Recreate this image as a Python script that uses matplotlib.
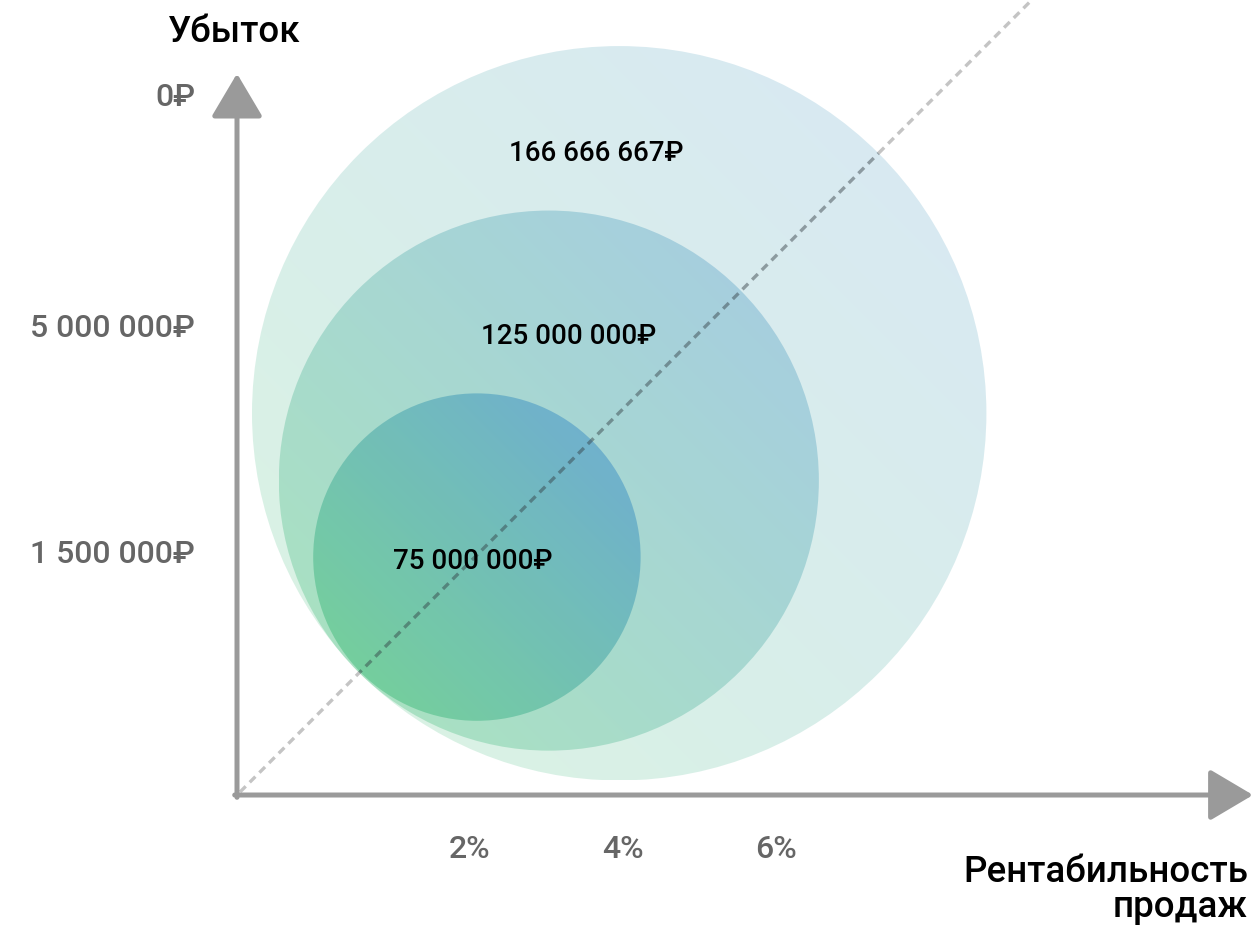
import numpy as np
import matplotlib.pyplot as plt
from matplotlib.patches import Circle

plt.rcParams["font.family"] = ["Roboto", "DejaVu Sans"]

# данные: рентабильность (%), уровень убытка, размер круга
circle_x = [3.95, 3.03, 2.09]
circle_y = [4.99, 4.11, 3.11]
circle_r = [4.80, 3.53, 2.14]
circle_labels = ["166 666 667₽", "125 000 000₽", "75 000 000₽"]
circle_alpha = [0.26, 0.45, 0.88]

x_ticks = [2, 4, 6]
x_tick_labels = ["2%", "4%", "6%"]
y_ticks = [9.12, 6.10, 3.14]
y_tick_labels = ["0₽", "5 000 000₽", "1 500 000₽"]

GREEN = np.array([111, 211, 143]) / 255
BLUE = np.array([104, 166, 214]) / 255
AXIS_C = "#9a9a9a"

fig = plt.figure(figsize=(12.55, 9.25), dpi=100)
ax = fig.add_axes([0, 0, 1, 1])
ax.set_xlim(-4.144, 12.261)
ax.set_ylim(-1.699, 10.392)
ax.set_axis_off()

x0 = -1.046  # положение вертикальной оси

# круги с градиентом (зелёный слева снизу -> синий справа сверху)
n = 200
u, v = np.meshgrid(np.linspace(0, 1, n), np.linspace(0, 1, n))
t = ((u + v) / 2)[..., None]
grad = GREEN * (1 - t) + BLUE * t
circles = []
for cx, cy, r, a in zip(circle_x, circle_y, circle_r, circle_alpha):
    circ = Circle((cx, cy), r, transform=ax.transData, facecolor="none", edgecolor="none")
    ax.add_patch(circ)
    circles.append(circ)
    im = ax.imshow(grad, extent=(cx - r, cx + r, cy - r, cy + r), origin="lower",
                   alpha=a, interpolation="bilinear", zorder=1)
    im.set_clip_path(circ)

# пунктирная диагональ: светлая снаружи, темнее внутри кругов
p0 = np.array([x0 + 0.04, 0.04])
p1 = np.array([9.4, 10.45])
d = (p1 - p0) / np.linalg.norm(p1 - p0)
c = np.array([circle_x[0], circle_y[0]])
b = np.dot(p0 - c, d)
disc = np.sqrt(b ** 2 - (np.dot(p0 - c, p0 - c) - circle_r[0] ** 2))
s_in, s_out = -b - disc, -b + disc
dash = dict(lw=2.4, dashes=(2.4, 1.7), zorder=3)
for a_, b_ in [(p0, p0 + s_in * d), (p0 + s_out * d, p1)]:
    ax.plot([a_[0], b_[0]], [a_[1], b_[1]], color="#c4c4c4", **dash)
inner = ax.plot([p0[0], p1[0]], [p0[1], p1[1]], color="#303a40", alpha=0.45, **dash)[0]
inner.set_clip_path(circles[0])

# оси со стрелками
arrow = dict(arrowstyle="-|>,head_length=27,head_width=16", color=AXIS_C, lw=3.6,
             shrinkA=0, shrinkB=0, mutation_scale=1)
ax.annotate("", xy=(x0, 9.43), xytext=(x0, -0.03), arrowprops=arrow, zorder=4)
ax.annotate("", xy=(12.235, 0), xytext=(x0 - 0.03, 0), arrowprops=arrow, zorder=4)

# подписи делений
for xt, lab in zip(x_ticks, x_tick_labels):
    ax.text(xt, -0.71, lab, ha="center", va="center", fontsize=23,
            color="#666666", fontweight="medium")
for yt, lab in zip(y_ticks, y_tick_labels):
    ax.text(-1.595, yt, lab, ha="right", va="center", fontsize=23,
            color="#666666", fontweight="medium")

# подписи кругов
label_pos = [(3.65, 8.39), (3.29, 6.00), (2.03, 3.05)]
for (lx, ly), lab in zip(label_pos, circle_labels):
    ax.text(lx, ly, lab, ha="center", va="center", fontsize=20,
            color="black", fontweight="medium", zorder=5)

# названия осей
ax.text(x0 - 0.03, 9.97, "Убыток", ha="center", va="center", fontsize=26.5,
        color="black", fontweight="medium")
ax.text(12.17, -1.24, "Рентабильность\nпродаж", ha="right", va="center",
        fontsize=26.5, color="black", fontweight="medium", linespacing=0.98,
        multialignment="right")

fig.savefig("out.png", dpi=100)
